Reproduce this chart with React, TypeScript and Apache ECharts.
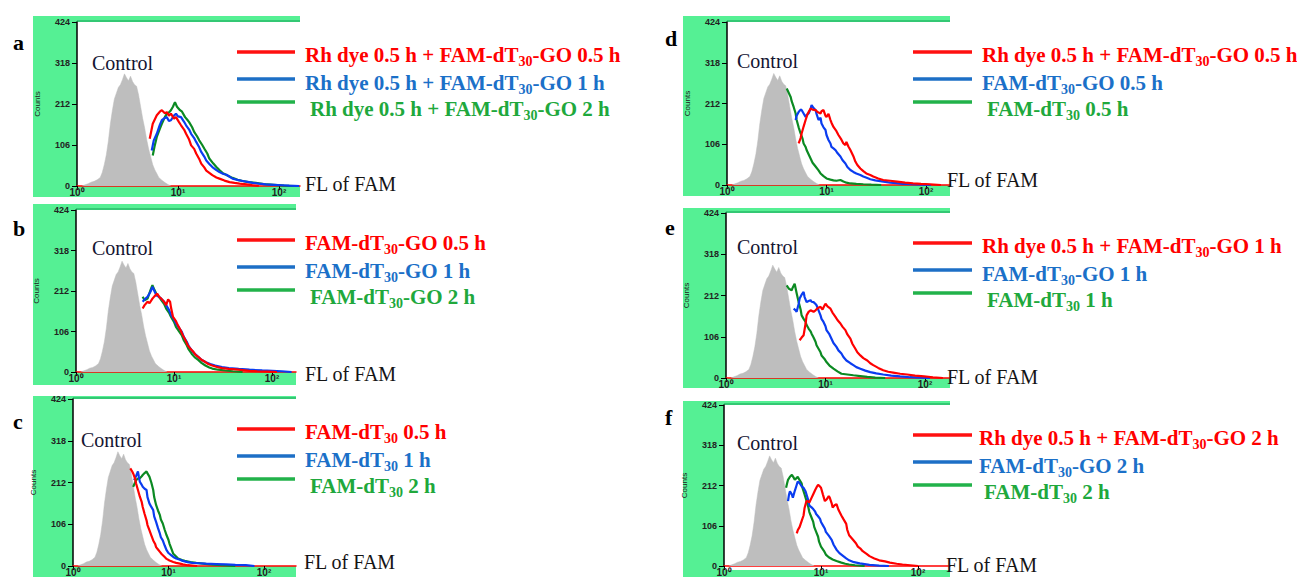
import React, { useEffect, useRef } from 'react';
import * as echarts from 'echarts';

// ---------- data (x = log10 of FAM fluorescence, y = counts) ----------
const yTicks = [0, 106, 212, 318, 424];
const xTickLabels = ['10⁰', '10¹', '10²'];

const control = [[0.05,0],[0.08,3],[0.11,6],[0.14,10],[0.17,12],[0.2,16],[0.23,22],[0.25,35],[0.27,55],[0.29,80],[0.31,115],[0.33,160],[0.35,195],[0.37,225],[0.39,240],[0.41,255],[0.43,262],[0.45,275],[0.47,290],[0.49,280],[0.51,272],[0.53,284],[0.55,270],[0.57,262],[0.59,258],[0.61,235],[0.63,205],[0.65,175],[0.67,150],[0.69,120],[0.71,95],[0.73,75],[0.75,55],[0.77,42],[0.79,32],[0.81,22],[0.84,15],[0.87,9],[0.9,4],[0.93,0]];

const aRed = [[0.72,122],[0.75,161],[0.79,183],[0.82,192],[0.84,196],[0.87,188],[0.89,191],[0.91,182],[0.93,187],[0.96,174],[0.98,178],[1.01,165],[1.03,157],[1.06,146],[1.08,135],[1.11,120],[1.13,105],[1.16,96],[1.18,84],[1.21,70],[1.23,58],[1.26,48],[1.28,40],[1.31,34],[1.34,28],[1.38,22],[1.41,19],[1.46,14],[1.51,10],[1.56,8],[1.61,6],[1.68,4],[1.74,2],[1.8,0]];
const aBlue = [[0.74,92],[0.76,118],[0.79,135],[0.82,158],[0.84,170],[0.87,176],[0.89,178],[0.91,168],[0.93,170],[0.96,182],[0.98,187],[1.0,180],[1.03,178],[1.06,166],[1.08,157],[1.11,146],[1.13,135],[1.16,124],[1.18,114],[1.21,100],[1.23,88],[1.26,76],[1.28,66],[1.31,57],[1.34,49],[1.38,41],[1.41,36],[1.45,31],[1.48,29],[1.54,19],[1.6,15],[1.64,13],[1.7,10],[1.74,8],[1.8,6],[1.87,4],[1.95,3],[2.03,2],[2.1,1],[2.2,0]];
const aGreen = [[0.75,79],[0.77,105],[0.79,127],[0.82,148],[0.84,161],[0.87,178],[0.89,187],[0.91,190],[0.93,196],[0.95,205],[0.97,217],[0.99,205],[1.02,196],[1.04,192],[1.07,178],[1.09,172],[1.11,165],[1.14,152],[1.16,140],[1.19,128],[1.21,118],[1.24,106],[1.26,97],[1.29,84],[1.31,71],[1.35,58],[1.38,49],[1.41,41],[1.44,34],[1.49,27],[1.54,21],[1.59,16],[1.64,13],[1.7,10],[1.77,8],[1.85,5],[1.95,3],[2.05,1],[2.15,0]];

const bRed = [[0.68,166],[0.7,175],[0.73,184],[0.75,180],[0.78,192],[0.8,198],[0.83,205],[0.85,196],[0.87,192],[0.9,183],[0.92,175],[0.94,190],[0.96,184],[0.97,168],[0.99,144],[1.02,133],[1.04,122],[1.07,108],[1.09,96],[1.12,82],[1.14,70],[1.17,60],[1.2,52],[1.22,45],[1.25,39],[1.28,32],[1.32,26],[1.35,21],[1.39,17],[1.44,13],[1.49,10],[1.56,8],[1.63,7],[1.7,5],[1.77,3],[1.85,2],[1.95,1],[2.05,0]];
const bBlue = [[0.68,184],[0.7,190],[0.73,197],[0.76,210],[0.78,223],[0.8,212],[0.82,201],[0.85,196],[0.87,192],[0.9,184],[0.92,175],[0.95,162],[0.97,149],[1.0,138],[1.02,127],[1.05,116],[1.08,105],[1.1,92],[1.13,79],[1.15,68],[1.18,57],[1.21,48],[1.25,39],[1.28,32],[1.32,26],[1.37,21],[1.42,17],[1.49,13],[1.56,10],[1.66,8],[1.77,6],[1.9,4],[2.0,3],[2.1,2],[2.2,0]];
const bGreen = [[0.68,197],[0.7,188],[0.73,192],[0.76,214],[0.78,227],[0.8,215],[0.82,205],[0.85,196],[0.87,188],[0.9,178],[0.92,166],[0.95,155],[0.97,144],[1.0,131],[1.02,118],[1.05,107],[1.08,96],[1.1,83],[1.13,70],[1.15,59],[1.18,48],[1.21,39],[1.25,31],[1.28,24],[1.32,17],[1.36,12],[1.39,9],[1.45,6],[1.52,4],[1.6,2],[1.7,0]];

const cRed = [[0.6,248],[0.62,240],[0.63,235],[0.65,222],[0.66,210],[0.68,193],[0.7,176],[0.72,162],[0.73,150],[0.75,132],[0.77,116],[0.78,104],[0.8,91],[0.82,78],[0.84,65],[0.86,56],[0.87,48],[0.89,42],[0.91,36],[0.93,30],[0.96,23],[0.98,18],[1.01,14],[1.05,10],[1.08,8],[1.12,6],[1.15,4],[1.2,2],[1.3,0]];
const cBlue = [[0.64,218],[0.66,228],[0.68,240],[0.69,226],[0.7,214],[0.72,206],[0.73,201],[0.75,196],[0.77,193],[0.78,175],[0.8,159],[0.82,150],[0.84,142],[0.85,126],[0.87,112],[0.89,96],[0.91,82],[0.92,73],[0.94,65],[0.96,52],[0.98,40],[1.0,33],[1.03,27],[1.05,23],[1.08,19],[1.12,16],[1.15,13],[1.2,10],[1.25,8],[1.32,7],[1.39,6],[1.5,5],[1.6,4],[1.7,3],[1.81,2],[1.9,0]];
const cGreen = [[0.63,201],[0.65,212],[0.66,218],[0.68,222],[0.7,223],[0.72,228],[0.73,231],[0.75,236],[0.77,240],[0.78,235],[0.8,227],[0.82,212],[0.84,193],[0.85,175],[0.87,155],[0.89,141],[0.91,129],[0.92,118],[0.94,108],[0.96,92],[0.98,78],[1.0,66],[1.01,57],[1.03,44],[1.05,31],[1.08,24],[1.1,19],[1.14,15],[1.17,13],[1.23,10],[1.29,8],[1.36,6],[1.43,4],[1.55,2],[1.7,0]];

const dRed = [[0.72,108],[0.74,122],[0.75,134],[0.77,152],[0.79,169],[0.81,185],[0.84,199],[0.86,196],[0.89,195],[0.91,190],[0.94,186],[0.95,192],[0.97,195],[0.99,180],[1.0,177],[1.02,185],[1.04,169],[1.05,162],[1.07,151],[1.1,140],[1.12,130],[1.15,118],[1.17,108],[1.19,104],[1.2,112],[1.22,100],[1.24,91],[1.27,75],[1.29,61],[1.31,52],[1.34,43],[1.37,36],[1.4,30],[1.44,26],[1.47,22],[1.52,17],[1.57,13],[1.64,11],[1.71,9],[1.79,6],[1.87,4],[1.95,3],[2.04,2],[2.15,0]];
const dBlue = [[0.69,169],[0.7,180],[0.72,190],[0.74,196],[0.75,195],[0.77,186],[0.79,177],[0.8,182],[0.82,186],[0.84,198],[0.85,208],[0.87,200],[0.89,195],[0.9,185],[0.92,169],[0.94,175],[0.95,160],[0.97,150],[0.99,143],[1.0,130],[1.02,117],[1.04,108],[1.05,99],[1.07,95],[1.09,91],[1.11,83],[1.14,74],[1.16,65],[1.19,56],[1.21,47],[1.24,39],[1.27,34],[1.3,30],[1.34,26],[1.37,22],[1.41,18],[1.44,15],[1.49,12],[1.54,10],[1.59,8],[1.64,6],[1.7,5],[1.77,3],[1.85,2],[1.95,1],[2.05,0]];
const dGreen = [[0.6,251],[0.62,240],[0.64,229],[0.65,218],[0.67,203],[0.69,186],[0.7,169],[0.72,150],[0.74,134],[0.76,120],[0.77,108],[0.79,99],[0.8,91],[0.82,80],[0.84,69],[0.86,58],[0.89,48],[0.92,38],[0.94,30],[0.97,23],[1.0,17],[1.04,14],[1.07,12],[1.1,11],[1.14,13],[1.17,9],[1.2,6],[1.24,4],[1.3,3],[1.37,2],[1.45,1],[1.55,0]];

const eRed = [[0.74,97],[0.76,104],[0.78,110],[0.8,140],[0.81,161],[0.83,170],[0.85,174],[0.88,170],[0.9,174],[0.92,179],[0.95,183],[0.97,176],[0.99,186],[1.0,191],[1.02,184],[1.05,178],[1.07,168],[1.1,157],[1.12,149],[1.15,140],[1.17,132],[1.2,123],[1.22,112],[1.25,101],[1.27,88],[1.3,75],[1.32,66],[1.35,58],[1.38,51],[1.42,45],[1.45,38],[1.48,33],[1.53,26],[1.58,20],[1.63,16],[1.68,14],[1.75,11],[1.82,9],[1.9,6],[1.99,4],[2.08,2],[2.18,0]];
const eBlue = [[0.68,178],[0.7,174],[0.71,170],[0.73,190],[0.74,204],[0.76,214],[0.78,221],[0.79,208],[0.81,195],[0.83,198],[0.85,200],[0.86,196],[0.88,195],[0.9,190],[0.91,187],[0.93,174],[0.95,161],[0.96,152],[0.98,144],[1.0,133],[1.01,123],[1.04,112],[1.06,101],[1.08,90],[1.11,80],[1.13,71],[1.16,63],[1.18,54],[1.21,45],[1.25,38],[1.28,33],[1.31,28],[1.35,24],[1.4,19],[1.45,15],[1.51,12],[1.58,9],[1.66,6],[1.75,4],[1.85,2],[1.95,1],[2.05,0]];
const eGreen = [[0.61,238],[0.63,230],[0.66,225],[0.67,232],[0.69,242],[0.71,218],[0.73,195],[0.75,176],[0.76,161],[0.78,152],[0.8,144],[0.81,136],[0.83,127],[0.85,120],[0.86,114],[0.88,104],[0.9,93],[0.91,84],[0.93,75],[0.95,66],[0.96,58],[0.99,49],[1.01,41],[1.04,32],[1.08,24],[1.12,17],[1.16,11],[1.22,9],[1.28,7],[1.35,5],[1.42,3],[1.5,1],[1.6,0]];

const fRed = [[0.75,86],[0.76,94],[0.78,103],[0.8,118],[0.82,133],[0.83,152],[0.85,171],[0.87,170],[0.88,167],[0.9,178],[0.92,189],[0.94,200],[0.96,210],[0.97,214],[0.99,209],[1.0,206],[1.02,188],[1.04,171],[1.06,176],[1.08,184],[1.09,180],[1.11,165],[1.12,154],[1.14,160],[1.16,163],[1.18,148],[1.21,133],[1.23,124],[1.26,111],[1.27,96],[1.29,81],[1.31,75],[1.33,69],[1.36,60],[1.38,51],[1.41,45],[1.43,39],[1.47,32],[1.5,26],[1.55,20],[1.6,15],[1.66,12],[1.71,9],[1.78,6],[1.84,4],[1.92,2],[2.0,0]];
const fBlue = [[0.66,171],[0.67,188],[0.68,197],[0.7,188],[0.71,180],[0.73,198],[0.75,214],[0.76,222],[0.78,218],[0.8,210],[0.82,206],[0.84,197],[0.85,189],[0.87,172],[0.88,159],[0.9,155],[0.92,150],[0.94,143],[0.95,137],[0.97,131],[0.99,124],[1.0,116],[1.02,107],[1.04,98],[1.05,90],[1.08,80],[1.11,69],[1.13,56],[1.16,43],[1.19,34],[1.23,26],[1.26,20],[1.29,15],[1.34,10],[1.4,7],[1.45,5],[1.5,3],[1.6,1],[1.7,0]];
const fGreen = [[0.64,206],[0.65,217],[0.66,227],[0.68,235],[0.7,240],[0.72,232],[0.73,227],[0.75,232],[0.76,235],[0.78,226],[0.8,218],[0.81,205],[0.83,189],[0.85,172],[0.87,154],[0.88,142],[0.9,129],[0.92,116],[0.93,103],[0.95,90],[0.97,77],[0.98,64],[1.0,51],[1.03,40],[1.05,30],[1.08,23],[1.12,17],[1.16,13],[1.21,9],[1.25,6],[1.29,4],[1.35,2],[1.45,0]];

// legend labels: [before subscript, subscript, after]
const legendA = [['Rh dye 0.5 h + FAM-dT', '30', '-GO 0.5 h'], ['Rh dye 0.5 h + FAM-dT', '30', '-GO 1 h'], ['Rh dye 0.5 h + FAM-dT', '30', '-GO 2 h']];
const legendB = [['FAM-dT', '30', '-GO 0.5 h'], ['FAM-dT', '30', '-GO 1 h'], ['FAM-dT', '30', '-GO 2 h']];
const legendC = [['FAM-dT', '30', ' 0.5 h'], ['FAM-dT', '30', ' 1 h'], ['FAM-dT', '30', ' 2 h']];
const legendD = [['Rh dye 0.5 h + FAM-dT', '30', '-GO 0.5 h'], ['FAM-dT', '30', '-GO 0.5 h'], ['FAM-dT', '30', ' 0.5 h']];
const legendE = [['Rh dye 0.5 h + FAM-dT', '30', '-GO 1 h'], ['FAM-dT', '30', '-GO 1 h'], ['FAM-dT', '30', ' 1 h']];
const legendF = [['Rh dye 0.5 h + FAM-dT', '30', '-GO 2 h'], ['FAM-dT', '30', '-GO 2 h'], ['FAM-dT', '30', ' 2 h']];

const controlLabel = 'Control';
const xAxisTitle = 'FL of FAM';
const yAxisTitle = 'Counts';

// ---------- layout / style ----------
const SERIF = "'Liberation Serif', 'Times New Roman', serif";
const SANS = "'Liberation Sans', Arial, sans-serif";
const LINE_COLORS = ['#FF0000', '#0A3CF0', '#0B8A22'];
const LEGEND_LINE = ['#FF1010', '#1D6FC6', '#22B24A'];
const LEGEND_TEXT = ['#FF0000', '#1B70C8', '#20A83C'];
const BG_GREEN = '#55F094';

const panels = [
  { letter: 'a', left: 77, top: 22, width: 223, height: 164, decade: 101, bg: [33, 16, 300, 197], letterPos: [13, 42], ctrl: [92, 63], lx: [237, 295, 305], fl: [305, 184], curves: [aRed, aBlue, aGreen], legend: legendA },
  { letter: 'b', left: 76, top: 210, width: 220, height: 162, decade: 98, bg: [33, 204, 296, 385], letterPos: [13, 228], ctrl: [92, 248], lx: [237, 295, 305], fl: [305, 374], curves: [bRed, bBlue, bGreen], legend: legendB },
  { letter: 'c', left: 73, top: 399, width: 223, height: 167, decade: 95.5, bg: [33, 396, 296, 577], letterPos: [13, 421], ctrl: [81, 440], lx: [237, 295, 305], fl: [304, 562], curves: [cRed, cBlue, cGreen], legend: legendC },
  { letter: 'd', left: 727, top: 22, width: 223, height: 163, decade: 99.5, bg: [683, 16, 950, 196], letterPos: [665, 38], ctrl: [737, 61], lx: [913, 972, 982], fl: [947, 180], curves: [dRed, dBlue, dGreen], legend: legendD },
  { letter: 'e', left: 726, top: 213, width: 224, height: 165, decade: 99.5, bg: [683, 208, 950, 388], letterPos: [665, 227], ctrl: [737, 247], lx: [913, 972, 982], fl: [947, 377], curves: [eRed, eBlue, eGreen], legend: legendE },
  { letter: 'f', left: 724, top: 405, width: 226, height: 165, decade: 97, bg: [683, 401, 950, 577], letterPos: [665, 417], ctrl: [737, 443], lx: [913, 972, 979], fl: [946, 565], curves: [fRed, fBlue, fGreen], legend: legendF },
];

function buildOption() {
  const grid: any[] = [];
  const xAxis: any[] = [];
  const yAxis: any[] = [];
  const series: any[] = [];
  const graphic: any[] = [];

  panels.forEach((p, i) => {
    grid.push({ left: p.left, top: p.top, width: p.width, height: p.height, show: false, containLabel: false });
    xAxis.push({
      type: 'value', gridIndex: i, min: 0, max: p.width / p.decade, interval: 1,
      axisLine: { show: true, onZero: false, lineStyle: { color: '#FF0000', width: 1.5 } },
      axisTick: { show: true, length: 4, lineStyle: { color: '#000', width: 1 } },
      axisLabel: {
        show: true, margin: 1, fontSize: 10, fontWeight: 'bold', fontFamily: SANS, color: '#222',
        showMaxLabel: false,
        formatter: (v: number) => (Math.abs(v - Math.round(v)) < 1e-6 ? xTickLabels[Math.round(v)] || '' : ''),
      },
      splitLine: { show: false },
    });
    yAxis.push({
      type: 'value', gridIndex: i, min: yTicks[0], max: yTicks[yTicks.length - 1], interval: yTicks[1] - yTicks[0],
      name: yAxisTitle, nameLocation: 'middle', nameGap: 36, nameRotate: 90,
      nameTextStyle: { fontSize: 8, fontFamily: SANS, color: '#222' },
      axisLine: { show: true, lineStyle: { color: '#000', width: 1.5 } },
      axisTick: { show: true, length: 5, lineStyle: { color: '#000', width: 1 } },
      axisLabel: { show: true, margin: 7, fontSize: 9, fontWeight: 'bold', fontFamily: SANS, color: '#222' },
      splitLine: { show: false },
    });

    series.push({
      type: 'line', xAxisIndex: i, yAxisIndex: i, data: control, symbol: 'none', z: 1,
      lineStyle: { width: 0.5, color: '#BEBEBE' }, itemStyle: { color: '#BEBEBE' },
      areaStyle: { color: '#BEBEBE', opacity: 1 },
    });
    [2, 1, 0].forEach((k) => {
      series.push({
        type: 'line', xAxisIndex: i, yAxisIndex: i, data: p.curves[k], symbol: 'none', z: 3 + (2 - k),
        lineStyle: { width: 2.2, color: LINE_COLORS[k] }, itemStyle: { color: LINE_COLORS[k] },
      });
    });

    const [bx0, by0, bx1, by1] = p.bg;
    graphic.push({ type: 'rect', z: -20, shape: { x: bx0, y: by0, width: bx1 - bx0, height: by1 - by0 }, style: { fill: BG_GREEN } });
    graphic.push({ type: 'rect', z: -19, shape: { x: p.left, y: p.top, width: bx1 - p.left, height: p.height }, style: { fill: '#FFFFFF' } });
    graphic.push({ type: 'line', z: -18, shape: { x1: p.left, y1: p.top - 1, x2: bx1, y2: p.top - 1 }, style: { stroke: '#34C874', lineWidth: 2 } });

    graphic.push({
      type: 'text', z: 50, x: p.letterPos[0], y: p.letterPos[1],
      style: { text: p.letter, fill: '#000', font: `bold 22px ${SERIF}`, verticalAlign: 'middle', align: 'left' },
    });
    graphic.push({
      type: 'text', z: 50, x: p.ctrl[0], y: p.ctrl[1],
      style: { text: controlLabel, fill: '#141432', font: `20px ${SERIF}`, verticalAlign: 'middle', align: 'left' },
    });
    graphic.push({
      type: 'text', z: 50, x: p.fl[0], y: p.fl[1],
      style: { text: xAxisTitle, fill: '#141414', font: `20px ${SERIF}`, verticalAlign: 'middle', align: 'left' },
    });

    const lineYs = [p.top + 30, p.top + 57, p.top + 80];
    const textDy = [3, 4, 7];
    const textDx = [0, 0, 5];
    p.legend.forEach((lab, k) => {
      graphic.push({
        type: 'line', z: 50, shape: { x1: p.lx[0], y1: lineYs[k], x2: p.lx[1], y2: lineYs[k] },
        style: { stroke: LEGEND_LINE[k], lineWidth: 3.5 },
      });
      graphic.push({
        type: 'text', z: 50, x: p.lx[2] + textDx[k], y: lineYs[k] + textDy[k],
        style: {
          text: `{t|${lab[0]}}{s|${lab[1]}}{t|${lab[2]}}`,
          verticalAlign: 'middle', align: 'left',
          font: `bold 21px ${SERIF}`,
          rich: {
            t: { fill: LEGEND_TEXT[k], font: `bold 21px ${SERIF}`, fontSize: 21, fontWeight: 'bold', fontFamily: SERIF, lineHeight: 22, verticalAlign: 'middle' },
            s: { fill: LEGEND_TEXT[k], font: `bold 14px ${SERIF}`, fontSize: 14, fontWeight: 'bold', fontFamily: SERIF, lineHeight: 27, verticalAlign: 'bottom' },
          },
        },
      });
    });
  });

  return { animation: false, backgroundColor: '#FFFFFF', grid, xAxis, yAxis, series, graphic };
}

export default function App() {
  const ref = useRef<HTMLDivElement>(null);
  useEffect(() => {
    document.body.style.margin = '0';
    if (!ref.current) return;
    const chart = echarts.init(ref.current, undefined, { renderer: 'svg' });
    chart.setOption(buildOption() as any);
    return () => chart.dispose();
  }, []);
  return <div ref={ref} style={{ position: 'fixed', left: 0, top: 0, width: 1297, height: 577 }} />;
}
